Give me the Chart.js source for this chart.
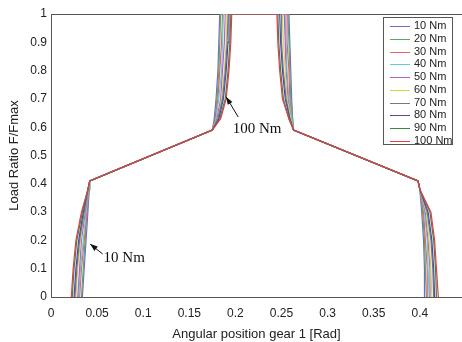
<!DOCTYPE html>
<html>
<head>
<meta charset="utf-8">
<script src="https://cdn.jsdelivr.net/npm/chart.js@4/dist/chart.umd.min.js"></script>
<style>
  html, body { margin: 0; padding: 0; background: #fff; }
  #wrap { width: 462px; height: 342px; }
</style>
</head>
<body>
<div id="wrap"><canvas id="load_chart" width="462" height="342"></canvas></div>
<script>
// load ratio levels, shared by every torque curve (left ramp, plateau, right ramp)
var yLevels = [0, 0.1, 0.2, 0.3, 0.38, 0.41, 0.59, 0.63, 0.7, 0.8, 0.9, 1,
               1, 0.9, 0.8, 0.7, 0.63, 0.59, 0.41, 0.38, 0.3, 0.2, 0.1, 0];

var torqueLabels = ["10 Nm", "20 Nm", "30 Nm", "40 Nm", "50 Nm", "60 Nm", "70 Nm", "80 Nm", "90 Nm", "100 Nm"];

// angular position [rad] of each curve at the levels above
var pos10  = [0.034, 0.036, 0.038, 0.040, 0.0415, 0.042, 0.175, 0.177, 0.179, 0.181, 0.182, 0.183, 0.258, 0.259, 0.260, 0.261, 0.262, 0.263, 0.398, 0.400, 0.402, 0.404, 0.405, 0.405];
var pos20  = [0.033, 0.035, 0.037, 0.039, 0.0413, 0.042, 0.175, 0.178, 0.180, 0.182, 0.183, 0.184, 0.257, 0.258, 0.259, 0.260, 0.262, 0.263, 0.398, 0.400, 0.403, 0.405, 0.406, 0.407];
var pos30  = [0.031, 0.033, 0.036, 0.039, 0.041, 0.042, 0.175, 0.178, 0.181, 0.183, 0.185, 0.186, 0.256, 0.256, 0.258, 0.259, 0.261, 0.263, 0.398, 0.400, 0.404, 0.406, 0.408, 0.408];
var pos40  = [0.030, 0.032, 0.035, 0.038, 0.041, 0.042, 0.175, 0.179, 0.182, 0.185, 0.186, 0.187, 0.254, 0.255, 0.256, 0.258, 0.261, 0.263, 0.398, 0.400, 0.405, 0.408, 0.409, 0.410];
var pos50  = [0.029, 0.031, 0.033, 0.037, 0.0407, 0.042, 0.175, 0.180, 0.184, 0.186, 0.188, 0.189, 0.253, 0.254, 0.255, 0.257, 0.260, 0.263, 0.398, 0.400, 0.406, 0.409, 0.411, 0.411];
var pos60  = [0.027, 0.029, 0.032, 0.036, 0.0405, 0.042, 0.175, 0.181, 0.185, 0.188, 0.190, 0.190, 0.251, 0.252, 0.254, 0.256, 0.260, 0.263, 0.398, 0.400, 0.407, 0.410, 0.412, 0.413];
var pos70  = [0.026, 0.028, 0.031, 0.036, 0.0403, 0.042, 0.175, 0.181, 0.186, 0.189, 0.191, 0.192, 0.250, 0.250, 0.252, 0.255, 0.259, 0.263, 0.398, 0.400, 0.408, 0.412, 0.414, 0.415];
var pos80  = [0.025, 0.027, 0.030, 0.035, 0.040, 0.042, 0.175, 0.182, 0.187, 0.190, 0.192, 0.193, 0.248, 0.249, 0.251, 0.254, 0.259, 0.263, 0.398, 0.400, 0.409, 0.413, 0.415, 0.416];
var pos90  = [0.023, 0.025, 0.028, 0.034, 0.040, 0.042, 0.175, 0.183, 0.189, 0.192, 0.194, 0.195, 0.246, 0.247, 0.249, 0.252, 0.258, 0.263, 0.398, 0.400, 0.411, 0.415, 0.417, 0.418];
var pos100 = [0.022, 0.024, 0.027, 0.033, 0.040, 0.042, 0.175, 0.184, 0.190, 0.193, 0.195, 0.196, 0.245, 0.246, 0.248, 0.251, 0.258, 0.263, 0.398, 0.400, 0.412, 0.416, 0.418, 0.420];

var xTicks = [0, 0.05, 0.1, 0.15, 0.2, 0.25, 0.3, 0.35, 0.4];

var positions = [pos10, pos20, pos30, pos40, pos50, pos60, pos70, pos80, pos90, pos100];
var colors = ['#6b6bd6', '#5fa85f', '#e86060', '#5fd0d0', '#b05fd6', '#d6d64a', '#7a7a7a', '#4b4bb0', '#3f873f', '#e0404a'];

// arrow annotations (data coordinates)
var notes = [
    { text: "100 Nm", x: 0.197, y: 0.58, tailX: 0.203, tailY: 0.636, tipX: 0.190, tipY: 0.707 },
    { text: "10 Nm", x: 0.057, y: 0.125, tailX: 0.056, tailY: 0.152, tipX: 0.0425, tipY: 0.187 }
];

var datasets = positions.map(function (xs, i) {
    return {
        label: torqueLabels[i],
        data: xs.map(function (x, k) { return { x: x, y: yLevels[k] }; }),
        borderColor: colors[i],
        backgroundColor: colors[i],
        borderWidth: 1.2,
        pointRadius: 0,
        showLine: true,
        fill: false,
        order: 9 - i
    };
});

var framePlugin = {
    id: 'frame',
    beforeDatasetsDraw: function (chart) {
        var ctx = chart.ctx, a = chart.chartArea;
        ctx.save();
        ctx.strokeStyle = '#555';
        ctx.lineWidth = 1;
        ctx.beginPath();
        ctx.moveTo(a.left, a.top + 0.5);
        ctx.lineTo(a.right, a.top + 0.5);
        ctx.stroke();
        ctx.restore();
    },
    afterDatasetsDraw: function (chart) {
        var ctx = chart.ctx;
        ctx.save();
        ctx.lineWidth = 1;

        // arrows + labels
        var xs = chart.scales.x, ys = chart.scales.y;
        ctx.strokeStyle = '#111';
        ctx.fillStyle = '#111';
        notes.forEach(function (n) {
            var x0 = xs.getPixelForValue(n.tailX), y0 = ys.getPixelForValue(n.tailY);
            var x1 = xs.getPixelForValue(n.tipX), y1 = ys.getPixelForValue(n.tipY);
            var ang = Math.atan2(y1 - y0, x1 - x0);
            ctx.beginPath();
            ctx.moveTo(x0, y0);
            ctx.lineTo(x1, y1);
            ctx.stroke();
            ctx.beginPath();
            ctx.moveTo(x1, y1);
            ctx.lineTo(x1 - 8 * Math.cos(ang - 0.35), y1 - 8 * Math.sin(ang - 0.35));
            ctx.lineTo(x1 - 8 * Math.cos(ang + 0.35), y1 - 8 * Math.sin(ang + 0.35));
            ctx.closePath();
            ctx.fill();
            ctx.font = '15px "Liberation Serif"';
            ctx.textBaseline = 'alphabetic';
            ctx.textAlign = 'left';
            ctx.fillText(n.text, xs.getPixelForValue(n.x), ys.getPixelForValue(n.y));
        });

        // legend box
        var bx = 383, by = 17, bw = 69, bh = 127;
        ctx.fillStyle = '#fff';
        ctx.fillRect(bx, by, bw, bh);
        ctx.strokeStyle = '#555';
        ctx.strokeRect(bx + 0.5, by + 0.5, bw, bh);
        ctx.font = '11px "Liberation Sans"';
        ctx.textBaseline = 'middle';
        chart.data.datasets.forEach(function (ds, i) {
            var ry = by + 9 + i * 12.75;
            ctx.strokeStyle = ds.borderColor;
            ctx.beginPath();
            ctx.moveTo(bx + 7, Math.round(ry) + 0.5);
            ctx.lineTo(bx + 27, Math.round(ry) + 0.5);
            ctx.stroke();
            ctx.fillStyle = '#222';
            ctx.fillText(ds.label, bx + 31, ry);
        });
        ctx.restore();
    }
};

new Chart(document.getElementById("load_chart").getContext("2d"), {
    type: 'scatter',
    data: { datasets: datasets },
    options: {
        responsive: false,
        devicePixelRatio: 1,
        animation: false,
        layout: { padding: { top: 14, right: 0, left: 0, bottom: 0 } },
        plugins: { legend: { display: false }, tooltip: { enabled: false } },
        scales: {
            x: {
                type: 'linear',
                min: 0,
                max: 0.4457,
                afterFit: function (s) { s.height = 45; },
                afterBuildTicks: function (s) { s.ticks = xTicks.map(function (v) { return { value: v }; }); },
                grid: { display: false, drawTicks: false },
                border: { color: '#555', width: 1 },
                ticks: {
                    padding: 9,
                    color: '#222',
                    font: { family: 'Liberation Sans', size: 12 },
                    callback: function (v) { return String(Math.round(v * 100) / 100); }
                },
                title: {
                    display: true,
                    text: 'Angular position gear 1 [Rad]',
                    color: '#222',
                    font: { family: 'Liberation Sans', size: 13 },
                    padding: { top: 0, bottom: 0 }
                }
            },
            y: {
                min: 0,
                max: 1,
                afterFit: function (s) { s.width = 51; },
                grid: { display: false, drawTicks: false },
                border: { color: '#555', width: 1 },
                ticks: {
                    stepSize: 0.1,
                    padding: 4,
                    color: '#222',
                    font: { family: 'Liberation Sans', size: 12 },
                    callback: function (v) { return String(Math.round(v * 10) / 10); }
                },
                title: {
                    display: true,
                    text: 'Load Ratio F/Fmax',
                    color: '#222',
                    font: { family: 'Liberation Sans', size: 13 },
                    padding: { top: 7, bottom: 0 }
                }
            }
        }
    },
    plugins: [framePlugin]
});
</script>
</body>
</html>
